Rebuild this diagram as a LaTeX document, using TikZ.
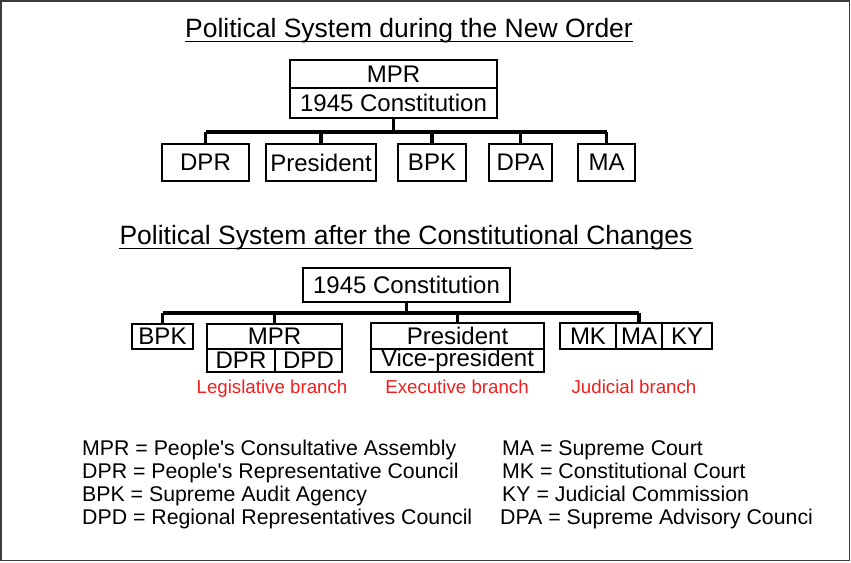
\documentclass[tikz,border=0pt]{standalone}
\usepackage{fontspec}
\setmainfont{Liberation Sans}[Ligatures=TeXOff]
\definecolor{branchred}{RGB}{240,30,30}
\definecolor{framegray}{RGB}{60,60,60}
\begin{document}
\begin{tikzpicture}[x=1pt,y=-1pt,
  title/.style={anchor=base,inner sep=0pt,font=\fontsize{26.5}{30}\selectfont},
  ubar/.style={line width=1.6pt},
  org/.style={draw,line width=1.8pt,anchor=north west,inner sep=0pt,outer sep=0pt,
    font=\fontsize{24}{28}\selectfont},
  conn/.style={line width=3.4pt},
  branch/.style={anchor=base,inner sep=0pt,text=branchred,font=\fontsize{18.7}{22}\selectfont},
  legend/.style={anchor=base west,inner sep=0pt,font=\fontsize{21.3}{24}\selectfont}
]
\useasboundingbox (0,0) rectangle (851,562);
\draw[framegray,line width=1.5pt] (1,0.8) rectangle (849.5,560.5);

% ---------- Title 1 ----------
\node[title] (t1) at (409,37) {Political System during the New Order};
\draw[ubar] ([yshift=-4.5pt]t1.base west) -- ([yshift=-4.5pt]t1.base east);

% ---------- Top hierarchy ----------
\node[org,minimum width=207pt,minimum height=28pt] (mprT) at (290,60) {MPR};
\node[org,minimum width=207pt,minimum height=30pt] (conT) at (290,88) {1945 Constitution};

\node[org,minimum width=87pt,minimum height=37pt] (dprT) at (162,144) {DPR};
\node[org,minimum width=110pt,minimum height=37pt] (presT) at (266,144) {President};
\node[org,minimum width=68pt,minimum height=37pt] (bpkT) at (398,144) {BPK};
\node[org,minimum width=63pt,minimum height=37pt] (dpaT) at (489,144) {DPA};
\node[org,minimum width=57pt,minimum height=37pt] (maT) at (578,144) {MA};

\coordinate (busT) at (395,132);
\draw[conn] (conT.south) -- (conT.south |- busT);
\draw[conn] (dprT.north |- busT) -- (maT.north |- busT);
\foreach \n in {dprT,presT,bpkT,dpaT,maT}
  \draw[conn] (\n.north) -- (\n.north |- busT);

% ---------- Title 2 ----------
\node[title] (t2) at (406,244) {Political System after the Constitutional Changes};
\draw[ubar] ([yshift=-4.5pt]t2.base west) -- ([yshift=-4.5pt]t2.base east);

% ---------- Second hierarchy ----------
\node[org,minimum width=207pt,minimum height=34pt] (conB) at (303,268) {1945 Constitution};

\node[org,minimum width=61pt,minimum height=25pt] (bpkB) at (132,324) {BPK};

\node[org,minimum width=135pt,minimum height=25pt] (mprB) at (207,324) {MPR};
\node[org,minimum width=68pt,minimum height=23pt] (dprB) at (207,349) {DPR};
\node[org,minimum width=67pt,minimum height=23pt] (dpdB) at (275,349) {DPD};

\node[org,minimum width=173pt,minimum height=26pt] (presB) at (371,323) {President};
\node[org,minimum width=173pt,minimum height=23pt] (vpB) at (371,349) {Vice-president};

\node[org,minimum width=56pt,minimum height=26pt] (mkB) at (560,323) {MK};
\node[org,minimum width=46pt,minimum height=26pt] (maB) at (616,323) {MA};
\node[org,minimum width=50pt,minimum height=26pt] (kyB) at (662,323) {KY};

\coordinate (busB) at (406,313);
\draw[conn] (conB.south) -- (conB.south |- busB);
\draw[conn] (bpkB.north |- busB) -- (maB.north |- busB);
\foreach \n in {bpkB,mprB,presB,maB}
  \draw[conn] (\n.north) -- (\n.north |- busB);

\node[branch] (legis) at (272,393) {Legislative branch};
\node[branch] (exec) at (457,393) {Executive branch};
\node[branch] (judic) at (634,393) {Judicial branch};

% ---------- Legend ----------
\node[legend] (l1) at (82,455) {MPR = People's Consultative Assembly};
\node[legend] (l2) at (82,478) {DPR = People's Representative Council};
\node[legend] (l3) at (82,501) {BPK = Supreme Audit Agency};
\node[legend] (l4) at (82,524) {DPD = Regional Representatives Council};
\node[legend] (r1) at (502,455) {MA = Supreme Court};
\node[legend] (r2) at (502,478) {MK = Constitutional Court};
\node[legend] (r3) at (502,501) {KY = Judicial Commission};
\node[legend] (r4) at (500,524) {DPA = Supreme Advisory Counci};
\end{tikzpicture}
\end{document}
